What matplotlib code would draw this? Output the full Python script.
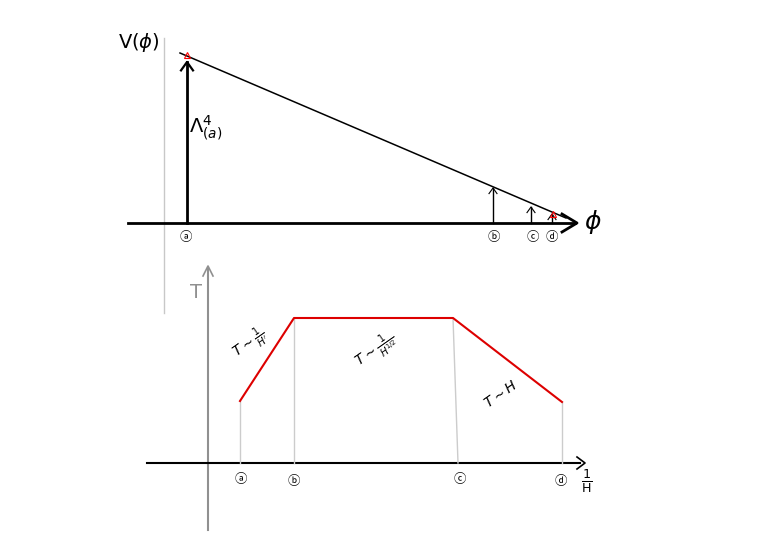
import numpy as np
import matplotlib.pyplot as plt

# esquema dibujado a mano, coordenadas en pixeles de la figura (776x549)

# panel superior: potencial V(phi)
V_line_x = [180, 566]
V_line_y = [53, 218]
phi_marks = [187, 493, 531, 552]          # posiciones a, b, c, d
arrow_tops = [62, 188, 207, 214]
arrow_widths = [2.0, 1.0, 1.0, 1.0]
top_labels = ['ⓐ', 'ⓑ', 'ⓒ', 'ⓓ']
top_label_x = [186, 494, 533, 552]
red_marks_x = [187, 553]
red_marks_y = [55, 214]
phi_axis_y = 223

# panel inferior: T frente a 1/H
invH = [240, 294, 453, 562]
T_vals = [401, 318, 318, 402]
guide_base_x = [240, 294, 458, 562]
bot_labels = ['ⓐ', 'ⓑ', 'ⓒ', 'ⓓ']
bot_label_x = [241, 294, 460, 561]
bot_label_y = [479, 482, 480, 481]
invH_axis_y = 463

circ_font = ['Noto Sans CJK SC', 'DejaVu Sans']

fig = plt.figure(figsize=(7.76, 5.49), dpi=100)
ax = fig.add_axes([0, 0, 1, 1])
ax.set_xlim(0, 776)
ax.set_ylim(549, 0)
ax.axis('off')

# ---- panel superior ----
ax.plot([164, 164], [38, 313], color='#c8c8c8', lw=1)
ax.plot([128, 575], [phi_axis_y, phi_axis_y], color='black', lw=2)
ax.plot([562, 577, 562], [214, 223, 232], color='black', lw=2)
ax.plot(V_line_x, V_line_y, color='black', lw=1.1)
for x, top, w in zip(phi_marks, arrow_tops, arrow_widths):
    ax.plot([x, x], [phi_axis_y, top], color='black', lw=w)
    hs = 4 if w < 1.5 else 6
    ax.plot([x - hs, x, x + hs], [top + hs * 1.4, top, top + hs * 1.4], color='black', lw=w * 0.8)
ax.plot(red_marks_x, red_marks_y, ls='none', marker='^', ms=5, mfc='none', mec='red', mew=0.8)
for x, lab in zip(top_label_x, top_labels):
    ax.text(x, 237, lab, ha='center', va='center', fontsize=9, family=circ_font)
ax.text(139, 42, r'V($\phi$)', ha='center', va='center', fontsize=14)
ax.text(593, 222, r'$\phi$', ha='center', va='center', fontsize=18)
ax.text(206, 128, r'$\Lambda^4_{(a)}$', ha='center', va='center', fontsize=14)

# ---- panel inferior ----
ax.plot([208, 208], [530, 268], color='#909090', lw=1.5)
ax.plot([203, 208, 213], [276, 266, 276], color='#909090', lw=1.2)
ax.text(196, 293, 'T', color='#909090', ha='center', va='center', fontsize=14)
ax.plot([147, 580], [invH_axis_y, invH_axis_y], color='black', lw=1.5)
ax.plot([577, 585, 577], [457, 463, 469], color='black', lw=1.2)
for xt, xb, y in zip(invH, guide_base_x, T_vals):
    ax.plot([xt, xb], [y, invH_axis_y], color='#cccccc', lw=1)
ax.plot(invH, T_vals, color='#dd0000', lw=1.5)
for x, y, lab in zip(bot_label_x, bot_label_y, bot_labels):
    ax.text(x, y, lab, ha='center', va='center', fontsize=9, family=circ_font)
ax.text(587, 481, r'$\frac{1}{\mathrm{H}}$', ha='center', va='center', fontsize=13)

ax.text(250, 344, r'$T\sim\frac{1}{H^{\prime}}$', rotation=35, ha='center', va='center', fontsize=10)
ax.text(377, 351, r'$T\sim\frac{1}{H^{1/2}}$', rotation=35, ha='center', va='center', fontsize=10)
ax.text(501, 394, r'$T\sim H$', rotation=35, ha='center', va='center', fontsize=10)

fig.savefig('out.png', dpi=100)
